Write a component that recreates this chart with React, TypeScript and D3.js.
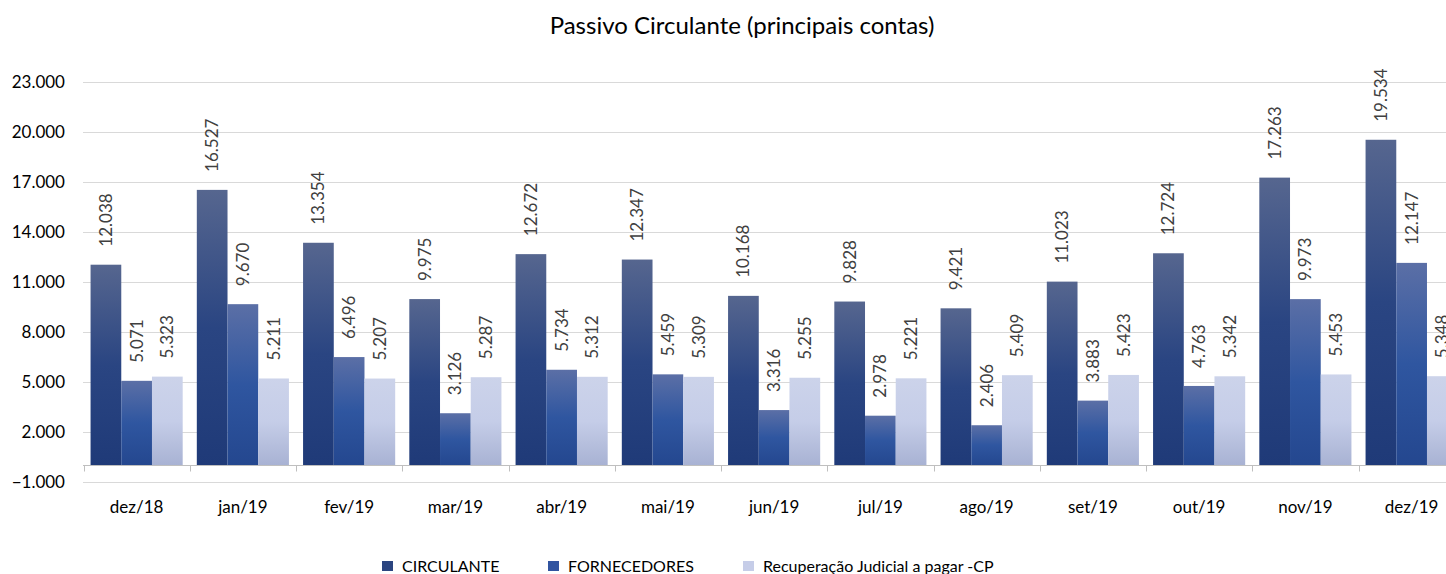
import React, { useEffect, useRef } from 'react'
import * as d3 from 'd3'

const months = ['dez/18', 'jan/19', 'fev/19', 'mar/19', 'abr/19', 'mai/19', 'jun/19', 'jul/19', 'ago/19', 'set/19', 'out/19', 'nov/19', 'dez/19']
const circulante = [12038, 16527, 13354, 9975, 12672, 12347, 10168, 9828, 9421, 11023, 12724, 17263, 19534]
const fornecedores = [5071, 9670, 6496, 3126, 5734, 5459, 3316, 2978, 2406, 3883, 4763, 9973, 12147]
const recuperacao = [5323, 5211, 5207, 5287, 5312, 5309, 5255, 5221, 5409, 5423, 5342, 5453, 5348]
const seriesNames = ['CIRCULANTE', 'FORNECEDORES', 'Recuperação Judicial a pagar -CP']
const yTicks = [-1000, 2000, 5000, 8000, 11000, 14000, 17000, 20000, 23000]

// gradient stops per series, top -> bottom
const gradients = [
  ['#56668f', '#2a4582', '#1f3a78'],
  ['#5b6fa6', '#2f56a0', '#24478f'],
  ['#ccd3ea', '#c5cde8', '#a8b2d3'],
]
const legendColors = ['#2b4580', '#3154a0', '#c6cde8']

const W = 1446
const H = 574
const FONT = 'Lato, "Liberation Sans", sans-serif'

export default function App() {
  const ref = useRef<SVGSVGElement>(null)

  useEffect(() => {
    const svg = d3.select(ref.current)
    svg.selectAll('*').remove()

    const fmt = d3.formatLocale({ decimal: ',', thousands: '.', grouping: [3], currency: ['R$', ''] }).format(',d')
    const data = [circulante, fornecedores, recuperacao]

    const x = d3.scaleBand().domain(months).range([83.5, 83.5 + 13 * 106.25]).padding(0)
    const x1 = d3.scaleBand<number>().domain([0, 1, 2]).range([0, x.bandwidth()]).paddingInner(0).paddingOuter(0.23)
    const y = d3.scaleLinear().domain([-1000, 23000]).range([482, 82])

    const defs = svg.append('defs')
    gradients.forEach((g, i) => {
      const lg = defs.append('linearGradient').attr('id', 'grad' + i)
        .attr('x1', 0).attr('y1', 0).attr('x2', 0).attr('y2', 1)
      g.forEach((c, j) => {
        lg.append('stop').attr('offset', j / (g.length - 1)).attr('stop-color', c)
      })
    })

    // title
    svg.append('text')
      .attr('x', 742).attr('y', 34)
      .attr('text-anchor', 'middle')
      .style('font-family', FONT).style('font-size', '24px').attr('fill', '#000')
      .text('Passivo Circulante (principais contas)')

    // gridlines + y labels
    const grid = svg.append('g')
    yTicks.forEach(t => {
      grid.append('line')
        .attr('x1', 83).attr('x2', W)
        .attr('y1', Math.round(y(t)) + 0.5).attr('y2', Math.round(y(t)) + 0.5)
        .attr('stroke', '#d9d9d9').attr('stroke-width', 1)
      grid.append('text')
        .attr('x', 65).attr('y', y(t))
        .attr('dy', '0.35em').attr('text-anchor', 'end')
        .style('font-family', FONT).style('font-size', '17px').attr('fill', '#000')
        .text(fmt(t))
    })

    // bars
    data.forEach((vals, si) => {
      svg.append('g').selectAll('rect')
        .data(vals).enter()
        .append('rect')
        .attr('x', (d, i) => x(months[i])! + x1(si)!)
        .attr('width', x1.bandwidth())
        .attr('y', d => y(d))
        .attr('height', d => y(0) - y(d))
        .attr('fill', `url(#grad${si})`)

      svg.append('g').selectAll('text')
        .data(vals).enter()
        .append('text')
        .attr('transform', (d, i) => `translate(${x(months[i])! + x1(si)! + x1.bandwidth() / 2 + 6},${y(d) - 18}) rotate(-90)`)
        .attr('text-anchor', 'start')
        .style('font-family', FONT).style('font-size', '17px').attr('fill', '#404040')
        .text(d => fmt(d))
    })

    // x axis line and tick marks
    const y0 = Math.round(y(0)) + 0.5
    svg.append('line')
      .attr('x1', 83).attr('x2', W).attr('y1', y0).attr('y2', y0)
      .attr('stroke', '#bfbfbf').attr('stroke-width', 1)
    d3.range(months.length + 1).forEach(i => {
      const xx = Math.round(83.5 + i * x.bandwidth()) + 0.5
      svg.append('line')
        .attr('x1', xx).attr('x2', xx).attr('y1', y0).attr('y2', y0 + 6)
        .attr('stroke', '#bfbfbf').attr('stroke-width', 1)
    })

    // category labels
    svg.append('g').selectAll('text')
      .data(months).enter()
      .append('text')
      .attr('x', d => x(d)! + x.bandwidth() / 2)
      .attr('y', 513)
      .attr('text-anchor', 'middle')
      .style('font-family', FONT).style('font-size', '17px').attr('fill', '#000')
      .text(d => d)

    // legend
    const legendX = [382, 548, 743]
    seriesNames.forEach((name, i) => {
      svg.append('rect')
        .attr('x', legendX[i]).attr('y', 561).attr('width', 11).attr('height', 10)
        .attr('fill', legendColors[i])
      svg.append('text')
        .attr('x', legendX[i] + 20).attr('y', 566)
        .attr('dy', '0.35em')
        .style('font-family', FONT).style('font-size', '16px').attr('fill', '#000')
        .text(name)
    })
  }, [])

  return (
    <>
      <style>{'body{margin:0}'}</style>
      <svg ref={ref} width={W} height={H} style={{ display: 'block', background: '#fff' }}></svg>
    </>
  )
}
